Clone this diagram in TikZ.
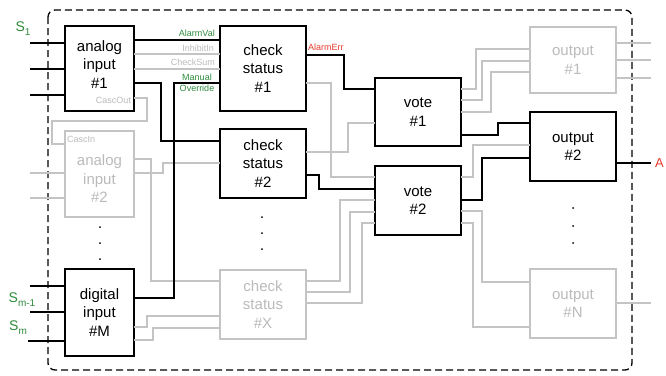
\documentclass[tikz,border=0pt]{standalone}
\usepackage{fontspec}
\setmainfont{Liberation Sans}
\definecolor{grn}{RGB}{46,139,60}
\definecolor{rd}{RGB}{229,57,44}
\definecolor{lg}{RGB}{196,196,196}
\definecolor{lgt}{RGB}{186,186,186}
\begin{document}
\begin{tikzpicture}[x=1pt,y=-1pt,
  blk/.style={draw=black, line width=1.3pt, inner sep=0pt, outer sep=0pt, align=center,
    font=\fontsize{15}{18.5}\selectfont, text=black},
  gblk/.style={blk, draw=lg, text=lgt},
  wire/.style={line width=1.3pt, black},
  gwire/.style={line width=1.3pt, lg},
  sml/.style={font=\fontsize{9}{10.5}\selectfont, inner sep=0pt},
  sig/.style={text=grn, inner sep=0pt, font=\fontsize{14}{14}\selectfont},
  dotc/.style={fill=black},
  frame/.style={line width=1.3pt, dash pattern=on 7pt off 4pt, rounded corners=7pt}
]
\useasboundingbox (0,0) rectangle (666,375);
\draw[frame] (48,10) rectangle (632,370);

% boxes
\node[blk, minimum width=69pt, minimum height=85pt,
  label={[align=center, font=\fontsize{15}{18.5}\selectfont, yshift=4pt]center:{analog\\input\\\#1}}] (an1) at (99.5,68.5) {};
\node[gblk, minimum width=69pt, minimum height=86pt,
  label={[align=center, text=lgt, font=\fontsize{15}{18.5}\selectfont, yshift=-5pt]center:{analog\\input\\\#2}}] (an2) at (99.5,174) {};
\node[blk, minimum width=69pt, minimum height=87pt] (dig) at (99.5,312.5) {digital\\input\\\#M};
\node[blk, minimum width=86pt, minimum height=85pt] (cs1) at (263,68.5) {check\\status\\\#1};
\node[blk, minimum width=86pt, minimum height=69pt] (cs2) at (263,163.5) {check\\status\\\#2};
\node[gblk, minimum width=86pt, minimum height=69pt] (csX) at (263,304.5) {check\\status\\\#X};
\node[blk, minimum width=86pt, minimum height=68pt] (v1) at (418,112) {vote\\\#1};
\node[blk, minimum width=86pt, minimum height=69pt] (v2) at (418,200.5) {vote\\\#2};
\node[gblk, minimum width=86pt, minimum height=66pt] (o1) at (573,60) {output\\\#1};
\node[blk, minimum width=86pt, minimum height=69pt] (o2) at (573,146.5) {output\\\#2};
\node[gblk, minimum width=86pt, minimum height=69pt] (oN) at (573,303.5) {output\\\#N};

% input stubs
\coordinate (i1) at (30,43);
\coordinate (i2) at (30,69);
\coordinate (i3) at (30,95);
\coordinate (i4) at (30,173);
\coordinate (i5) at (30,198);
\coordinate (i6) at (30,286);
\coordinate (i7) at (30,312);
\coordinate (i8) at (28,341);
\draw[wire] (i1) -- (i1 -| an1.west);
\draw[wire] (i2) -- (i2 -| an1.west);
\draw[wire] (i3) -- (i3 -| an1.west);
\draw[gwire] (i4) -- (i4 -| an2.west);
\draw[gwire] (i5) -- (i5 -| an2.west);
\draw[wire] (i6) -- (i6 -| dig.west);
\draw[wire] (i7) -- (i7 -| dig.west);
\draw[wire] (i8) -- (i8 -| dig.west);
\node[sig] (s1) at (23,29) {S\raisebox{-4pt}{\fontsize{10}{10}\selectfont 1}};
\node[sig] (sm1) at (22,300) {S\raisebox{-4pt}{\fontsize{10}{10}\selectfont m-1}};
\node[sig] (sm) at (18,328) {S\raisebox{-4pt}{\fontsize{10}{10}\selectfont m}};

% output stubs
\coordinate (q1) at (651,43);
\coordinate (q2) at (651,60);
\coordinate (q3) at (651,78);
\coordinate (qa) at (651,163);
\coordinate (qn) at (651,303);
\draw[gwire] (q1 -| o1.east) -- (q1);
\draw[gwire] (q2 -| o1.east) -- (q2);
\draw[gwire] (q3 -| o1.east) -- (q3);
\draw[wire] (qa -| o2.east) -- (qa);
\draw[gwire] (qn -| oN.east) -- (qn);
\node[anchor=west, text=rd, inner sep=0pt, font=\fontsize{13}{13}\selectfont] (A) at (655,163) {A};

% analog 1 -> check status
\draw[wire] ([yshift=-14pt]an1.north east) -- ([yshift=-14pt]cs1.north west);
\draw[gwire] ([yshift=-28pt]an1.north east) -- ([yshift=-28pt]cs1.north west);
\draw[gwire] ([yshift=-43pt]an1.north east) -- ([yshift=-43pt]cs1.north west);
\draw[wire] ([yshift=-57pt]an1.north east) -- ++(27,0) |- ([yshift=-12pt]cs2.north west);
\draw[gwire] ([yshift=-72pt]an1.north east) -- ++(13,0) -- ++(0,23) -- ++(-95,0) |- ([yshift=-13pt]an2.north west);

% analog 2
\draw[gwire] ([yshift=-28pt]an2.north east) -- ++(17,0) |- ([yshift=-11pt]csX.north west);
\draw[gwire] ([yshift=-42pt]an2.north east) -- ++(29,0) |- ([yshift=-34pt]cs2.north west);

% digital
\draw[wire] ([yshift=-29pt]dig.north east) -- ++(40,0) |- ([yshift=-57pt]cs1.north west);
\draw[gwire] ([yshift=-58pt]dig.north east) -- ++(13,0) |- ([yshift=-46pt]csX.north west);
\draw[gwire] ([yshift=-71pt]dig.north east) -- ++(19,0) |- ([yshift=-58pt]csX.north west);

% check status -> vote
\draw[wire] ([yshift=-29pt]cs1.north east) -- ++(38,0) |- ([yshift=-11pt]v1.north west);
\draw[gwire] ([yshift=-57pt]cs1.north east) -- ++(25,0) |- ([yshift=-11pt]v2.north west);
\draw[gwire] ([yshift=-23pt]cs2.north east) -- ++(42,0) |- ([yshift=-45pt]v1.north west);
\draw[wire] ([yshift=-46pt]cs2.north east) -- ++(13,0) |- ([yshift=-23pt]v2.north west);
\draw[gwire] ([yshift=-11pt]csX.north east) -- ++(34,0) |- ([yshift=-34pt]v2.north west);
\draw[gwire] ([yshift=-22pt]csX.north east) -- ++(44,0) |- ([yshift=-46pt]v2.north west);
\draw[gwire] ([yshift=-33pt]csX.north east) -- ++(56,0) |- ([yshift=-57pt]v2.north west);

% vote -> output
\draw[gwire] ([yshift=-11pt]v1.north east) -- ++(15,0) |- ([yshift=-22pt]o1.north west);
\draw[gwire] ([yshift=-22pt]v1.north east) -- ++(21,0) |- ([yshift=-34pt]o1.north west);
\draw[gwire] ([yshift=-34pt]v1.north east) -- ++(30,0) |- ([yshift=-45pt]o1.north west);
\draw[wire] ([yshift=-57pt]v1.north east) -- ++(37,0) |- ([yshift=-11pt]o2.north west);
\draw[gwire] ([yshift=-11pt]v2.north east) -- ++(12,0) |- ([yshift=-33pt]o2.north west);
\draw[wire] ([yshift=-34pt]v2.north east) -- ++(21,0) |- ([yshift=-46pt]o2.north west);
\draw[gwire] ([yshift=-45pt]v2.north east) -- ++(21,0) |- ([yshift=-13pt]oN.north west);
\draw[gwire] ([yshift=-57pt]v2.north east) -- ++(12,0) |- ([yshift=-58pt]oN.north west);

% small labels
\node[sml, text=grn, anchor=east] (lav) at (215,33) {AlarmVal};
\node[sml, text=lgt, anchor=east] (lii) at (214,48) {InhibitIn};
\node[sml, text=lgt, anchor=east] (lcs) at (215,62) {CheckSum};
\node[sml, text=grn, align=center] (lmo) at (197,83) {Manual\\Override};
\node[sml, text=lgt, anchor=east] (lco) at (131,100) {CascOut};
\node[sml, text=lgt, anchor=west] (lci) at (67,139) {CascIn};
\node[sml, text=rd, anchor=west] (lae) at (308,47) {AlarmErr};

% ellipsis dots
\foreach \y in {227,243,259} \fill[dotc] (100,\y) circle (1pt);
\foreach \y in {217,233,249} \fill[dotc] (262,\y) circle (1pt);
\foreach \y in {208,226,243} \fill[dotc] (573,\y) circle (1pt);
\end{tikzpicture}
\end{document}
